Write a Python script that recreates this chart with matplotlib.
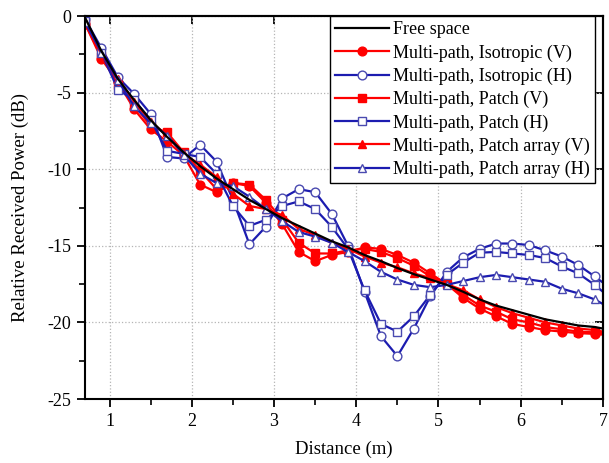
import matplotlib
matplotlib.use("Agg")
import matplotlib.pyplot as plt
from matplotlib.ticker import MultipleLocator

plt.rcParams['font.family'] = ['Liberation Serif', 'DejaVu Serif']
plt.rcParams['axes.unicode_minus'] = False

# Distance (m); last point at 7.0 only carries the line to the frame
distance = [0.7, 0.9, 1.1, 1.3, 1.5, 1.7, 1.9, 2.1, 2.3, 2.5, 2.7, 2.9, 3.1, 3.3, 3.5, 3.7,
            3.9, 4.1, 4.3, 4.5, 4.7, 4.9, 5.1, 5.3, 5.5, 5.7, 5.9, 6.1, 6.3, 6.5, 6.7, 6.9, 7.0]

free_space = [-0.1, -2.3, -4.1, -5.5, -6.8, -7.9, -8.9, -9.8, -10.6, -11.3, -12.0, -12.6, -13.2,
              -13.7, -14.2, -14.7, -15.1, -15.6, -16.0, -16.45, -16.85, -17.2, -17.55, -18.0, -18.5,
              -18.9, -19.2, -19.5, -19.8, -20.0, -20.2, -20.3, -20.4]

iso_v = [-0.5, -2.8, -4.3, -6.1, -7.4, -8.2, -9.1, -11.0, -11.5, -10.9, -11.1, -12.2, -13.6,
         -15.4, -16.0, -15.6, -15.4, -15.1, -15.2, -15.6, -16.1, -16.8, -17.5, -18.4, -19.1,
         -19.6, -20.1, -20.3, -20.5, -20.6, -20.7, -20.75, -20.8]
iso_h = [-0.2, -2.1, -4.0, -5.1, -6.4, -9.2, -9.3, -8.4, -9.5, -12.0, -14.9, -13.75, -11.9,
         -11.3, -11.5, -12.9, -15.0, -18.0, -20.9, -22.2, -20.4, -18.3, -16.7, -15.75, -15.2,
         -14.85, -14.85, -14.95, -15.3, -15.7, -16.25, -17.0, -17.4]
patch_v = [-0.5, -2.6, -4.5, -5.8, -7.2, -7.6, -8.9, -10.1, -11.3, -10.9, -11.0, -12.0, -13.3,
           -14.8, -15.5, -15.5, -15.3, -15.2, -15.4, -15.8, -16.3, -17.0, -17.5, -18.2, -18.9,
           -19.3, -19.8, -20.0, -20.3, -20.45, -20.6, -20.65, -20.7]
patch_h = [-0.3, -2.4, -4.8, -5.5, -6.8, -8.8, -9.0, -9.2, -10.3, -12.4, -13.7, -13.3, -12.4,
           -12.1, -12.6, -13.75, -15.2, -17.9, -20.1, -20.6, -19.6, -18.2, -16.9, -16.1, -15.45,
           -15.4, -15.5, -15.6, -15.8, -16.35, -16.8, -17.55, -18.0]
array_v = [-0.4, -2.5, -4.1, -5.6, -6.9, -7.8, -9.0, -9.7, -10.5, -11.6, -12.4, -12.6, -13.0,
           -13.9, -14.3, -14.8, -15.2, -15.7, -16.1, -16.4, -16.8, -17.1, -17.5, -17.9, -18.5,
           -19.0, -19.4, -19.7, -20.0, -20.2, -20.4, -20.5, -20.6]
array_h = [-0.4, -2.4, -4.2, -5.9, -7.0, -7.8, -9.05, -10.3, -10.9, -11.1, -11.8, -12.6, -13.4,
           -14.1, -14.4, -14.8, -15.4, -16.0, -16.7, -17.2, -17.55, -17.7, -17.55, -17.3, -17.05,
           -16.9, -17.05, -17.2, -17.35, -17.8, -18.1, -18.5, -18.8]

RED = '#ff0000'
BLUE = '#1c1cb0'
EDGE = '#4a4ab0'

fig = plt.figure(figsize=(6.09, 4.63), dpi=100)
ax = fig.add_axes([0.1396, 0.1382, 0.990 - 0.1396, 0.9654 - 0.1382])

mk = dict(markevery=slice(0, 32), markersize=6.3, lw=1.6)
ax.plot(distance, free_space, color='black', lw=1.6, label='Free space', zorder=3)
ax.plot(distance, iso_v, color=RED, marker='o', mfc=RED, mec=RED,
        label='Multi-path, Isotropic (V)', **mk)
ax.plot(distance, iso_h, color=BLUE, marker='o', mfc='white', mec=EDGE, mew=1.0,
        label='Multi-path, Isotropic (H)', **mk)
ax.plot(distance, patch_v, color=RED, marker='s', mfc=RED, mec=RED,
        label='Multi-path, Patch (V)', **mk)
ax.plot(distance, patch_h, color=BLUE, marker='s', mfc='white', mec=EDGE, mew=1.0,
        label='Multi-path, Patch (H)', **mk)
ax.plot(distance, array_v, color=RED, marker='^', mfc=RED, mec=RED,
        label='Multi-path, Patch array (V)', **mk)
ax.plot(distance, array_h, color=BLUE, marker='^', mfc='white', mec=EDGE, mew=1.0,
        label='Multi-path, Patch array (H)', **mk)

ax.set_xlim(0.7, 7)
ax.set_ylim(-25, 0)
ax.xaxis.set_major_locator(MultipleLocator(1))
ax.xaxis.set_minor_locator(MultipleLocator(0.5))
ax.yaxis.set_major_locator(MultipleLocator(5))
ax.yaxis.set_minor_locator(MultipleLocator(2.5))
ax.tick_params(which='major', direction='out', length=6, width=1.3, labelsize=13, pad=4)
ax.tick_params(which='minor', direction='out', length=4, width=1.2)
ax.grid(True, which='major', color='#b5b5b5', linestyle=':', linewidth=0.9)

# mirrored ticks on top and right, pointing inward
top = ax.secondary_xaxis('top')
top.set_xticks([1, 2, 3, 4, 5, 6, 7])
top.tick_params(direction='in', length=6, width=1.3, labeltop=False)
right = ax.secondary_yaxis('right')
right.set_yticks([-25, -20, -15, -10, -5, 0])
right.tick_params(direction='in', length=6, width=1.3, labelright=False)
for a in (ax, top, right):
    for s in a.spines.values():
        s.set_linewidth(1.5)

ax.set_xlabel('Distance (m)', fontsize=13.5, labelpad=8)
ax.set_ylabel('Relative Received Power (dB)', fontsize=13.5, labelpad=13)

leg = ax.legend(loc='upper right', bbox_to_anchor=(0.985, 1.0), borderaxespad=0,
                fontsize=13, frameon=True, fancybox=False, framealpha=1,
                edgecolor='black', handlelength=3.0, handletextpad=0.2,
                labelspacing=0.33, borderpad=0.3)
leg.get_frame().set_linewidth(1.0)
leg.set_zorder(10)

plt.savefig('out.png', dpi=100)
